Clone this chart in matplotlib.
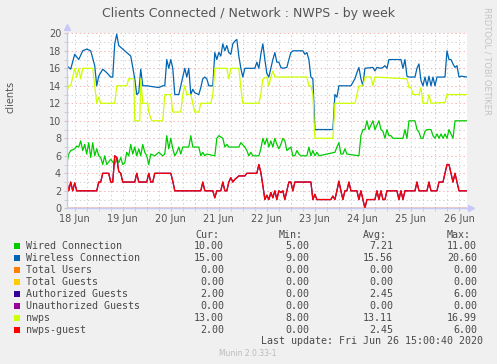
import numpy as np
import matplotlib.pyplot as plt
from matplotlib.patches import Rectangle

plt.rcParams['font.family'] = ['DejaVu Sans']

W, H = 497, 364

# (hours since 18 Jun 00:00, clients)
wired = [(8,5),(9,6.2),(10,6.6),(12,6.8),(13,7.1),(14,7),(15,7.7),(16,6.6),(17,7.3),(18,6.2),(19,7.5),(20,5.8),
         (21,7.5),(22,6),(23,6.8),(24,6),(25,5.8),(26,5),(27,6),(28,5),(30,5.6),(32,5),(33,5.8),(34,5.2),(35,5.8),
         (36,5),(37,5.2),(38,6.4),(39,6),(40,7.3),(41,6.2),(42,7),(43,6),(44,6.8),(45,6),(46,7.3),(47,6.4),(48,6),
         (49,5),(50,6.2),(52,6),(54,6.4),(56,6),(57,6.2),(58,8.3),(59,6.8),(60,8),(61,6.8),(62,6),(63,6.4),(64,7),
         (65,6.2),(66,7),(69,7),(70,8.3),(71,7),(74,7),(75,6),(76,6.4),(77,6),(78,6.2),(82,6),(83,8),(84,8.3),(86,8),
         (87,7),(88,7.3),(89,7),(94,7),(95,7.5),(97,7),(98,6.6),(99,6),(100,6.4),(101,6),(104,6),(105,6.8),(106,8),
         (107,7.3),(108,8),(109,7),(110,7.7),(111,7),(112,8),(113,7.3),(114,6.8),(115,7.3),(116,8),(117,7.7),
         (118,6.6),(119,6.8),(120,7),(121,6),(122,6),(123,6.6),(124,6.2),(125,6),(128,6),(129,7),(130,6),(131,6.6),
         (132,6),(133,6.4),(134,6),(142,6.4),(143,7),(144,7.5),(145,6.2),(146,6.2),(147,6.8),(148,6.2),(154,6),
         (155,8.3),(156,9),(157,9),(158,10),(159,9),(161,10),(162,9),(164,10),(165,9),(166,8.8),(167,8),(168,9),
         (169,8.3),(170,8.3),(171,8),(176,8),(177,9),(178,8),(179,10),(182,10),(183,9),(184,8.7),(185,8),(186,8),
         (187,8.8),(188,9),(190,9),(191,8.3),(192,8),(193,8.5),(194,8),(195,8.5),(196,8),(197,8.5),(198,8),(199,9),
         (201,8),(202,10),(208,10)]

wireless = [(8,16.3),(10,15.9),(12,17.6),(14,17),(16,18),(18,18.2),(20,18),(22,16.3),(23,14),(24,15.1),(26,15.9),
            (28,15.5),(30,15),(31,15),(32,18.8),(33,19.9),(34,18.6),(36,18.2),(38,17.8),(40,17.4),(42,14.8),(43,13),
            (44,13.2),(45,15.9),(46,14),(48,14),(54,13.8),(56,14),(57,14),(58,17),(59,16),(60,17),(61,16),(62,13),
            (64,13),(66,15),(67,16),(68,15),(69,16),(70,13),(71,13.6),(72,13.2),(74,13),(75,13.8),(76,14.8),(77,15),
            (78,14.8),(79,14),(81,14),(82,17.8),(83,17),(84,17.8),(85,17.4),(86,18.8),(87,18),(88,18.6),(89,17.8),
            (90,17.6),(91,18.8),(92,19.1),(93,19.3),(94,17.4),(95,16),(96,15),(97,16),(102,16),(103,16.7),(104,16),
            (105,17.6),(106,18.8),(107,17),(108,15.4),(109,15),(110,16),(111,17),(112,17.8),(113,16.7),(114,16.7),
            (115,16.1),(116,16),(118,16.1),(119,17),(120,17.8),(121,18),(126,18),(127,17.6),(128,17.8),(129,17),
            (130,15),(131,14.8),(132,9),(140,9),(141,9),(142,13),(143,12.7),(144,14),(150,14),(152,14.8),(153,15.5),
            (154,16.1),(155,14.8),(156,14),(157,16),(161,16.1),(162,15.7),(163,16.1),(165,16),(166,16.1),(167,16.3),
            (168,16),(169,17),(175,17),(176,16),(177,17),(178,15.1),(179,15),(182,15),(183,16),(184,16.5),(185,14.6),
            (186,14),(187,15),(188,14),(189,15.1),(190,14),(191,15),(192,14),(193,15),(197,15),(198,18),(199,17),
            (200,17),(201,16.5),(202,16.1),(203,16.3),(204,15),(205,15.1),(208,15)]

nwps = [(8,13.2),(9,14),(10,14),(11,15),(12,16),(13,15),(14,16),(15,14.8),(16,16),(21,16),(22,14),(23,12),
        (24,12.7),(25,12),(32,12),(33,14),(38,14),(39,14.8),(41.5,14.8),(42,10),(44.5,10),(45,14.8),(46,12),
        (48.5,12),(49,11),(50.5,10),(56,10),(57,13),(60,13),(61,11),(65,11),(66,13),(67,14),(68,13),(70,13),
        (71,12),(72,11),(74,11),(75,12),(80,12),(81,13),(82,16),(88,16),(89,14.8),(90,16),(94,16),(95,13.8),
        (96,12),(104,12),(105,13),(106,14.8),(108,15),(109,14),(110,15),(111,15.7),(112,15),(128,15),(129,14),
        (130,14),(131,13),(132,8),(141,8),(142,12),(152,12),(153,13),(154,14),(156,14),(157,15),(160,15),(161,14),
        (162,15),(178,14.8),(179,13.8),(180,13.8),(181,13),(184,13),(185,13.8),(186,12),(188,12),(189,13),
        (190,12),(197,12.1),(198,13),(208,13)]

nwps_guest = [(8,3.1),(9,2),(10,3),(11,2),(12,2.9),(13,2),(23,2),(24,3),(25,3),(26,4),(29,4),(30,3),(31,3),
              (32,6),(33,5.8),(34,4.2),(35,4),(36,3),(42,3),(43,4),(44,3),(48,3),(49,4),(50,3),(51,3),(52,4),
              (60,4),(61,3.1),(62,2),(75,2),(76,3),(77,2),(81,2),(82,1.2),(83,2),(85,2),(86,3),(87,2),(88,2),
              (89,3),(90,3.5),(91,3),(92,3.3),(93,3.5),(94,3.7),(97,3.7),(98,4),(103,4),(104,5),(105,4.1),
              (106,2.6),(107,1),(108,1.5),(109,1),(110,1.8),(111,1.2),(112,2),(113,1),(114,2),(115,1.8),(116,2),
              (117,1),(118,2),(119,3),(120,3),(121,2),(122,3),(130,3),(131,1),(132,1.6),(133,1),(140,1),(141,1.4),
              (142,1),(143,2),(144,3.1),(145,2),(146,1),(147,2),(148,2),(149,3),(150,2),(153,2),(154,1),(155,2),
              (156,1),(157,0),(158,1),(162,1),(163,2),(164,1),(165,2),(166,1),(167,1),(168,2),(173,2),(174,1),
              (175,2),(176,1),(177,2),(182,2),(183,3),(184,2),(188,2),(189,3),(190,2),(193,2),(194,3),(196,3),
              (197,4),(198,5),(199,5),(200,4),(201,3),(202,4),(203,3),(204,2),(208,2)]

authorized_guests = nwps_guest
zero_series = [(8,0),(208,0)]

names = ["Wired Connection", "Wireless Connection", "Total Users", "Total Guests",
         "Authorized Guests", "Unauthorized Guests", "nwps", "nwps-guest"]
colors = ["#00cc00", "#0066b3", "#ff8000", "#ffcc00", "#330099", "#990099", "#ccff00", "#ff0000"]
data = [wired, wireless, zero_series, zero_series, authorized_guests, zero_series, nwps, nwps_guest]
cur = [10.00, 15.00, 0.00, 0.00, 2.00, 0.00, 13.00, 2.00]
mins = [5.00, 9.00, 0.00, 0.00, 0.00, 0.00, 8.00, 0.00]
avgs = [7.21, 15.56, 0.00, 0.00, 2.45, 0.00, 13.11, 2.45]
maxs = [11.00, 20.60, 0.00, 0.00, 6.00, 0.00, 16.99, 6.00]
day_labels = ["18 Jun", "19 Jun", "20 Jun", "21 Jun", "22 Jun", "23 Jun", "24 Jun", "25 Jun", "26 Jun"]


def fx(x):
    return x / W


def fy(y):
    return 1 - y / H


fig = plt.figure(figsize=(W / 100, H / 100), dpi=100, facecolor="#f0f0f0")
ax = fig.add_axes([fx(66.7), fy(208.3), 400.3 / W, 175 / H])
ax.set_facecolor("white")
ax.set_xlim(8, 208)
ax.set_ylim(0, 20)

# grid: dotted, red every day / 2 clients, grey otherwise
for h in range(12, 208, 6):
    c = "#f4b0b0" if h % 24 == 0 else "#d0d0d0"
    ax.axvline(h, color=c, lw=0.7, dashes=(1.4, 2.8), zorder=0)
for v in range(1, 21):
    c = "#f4b0b0" if v % 2 == 0 else "#d0d0d0"
    ax.axhline(v, color=c, lw=0.7, dashes=(1.4, 2.8), zorder=0)

for d, c in zip(data, colors):
    arr = np.array(d, dtype=float)
    ax.plot(arr[:, 0], arr[:, 1], color=c, lw=0.9)

ax.set_xticks(np.arange(12, 208, 24))
ax.set_xticklabels(day_labels)
ax.set_xticks(np.arange(12, 208, 6), minor=True)
ax.set_yticks(np.arange(0, 21, 2))
ax.set_yticks(np.arange(0, 21, 1), minor=True)
ax.tick_params(which="both", length=2, color="#c8c8c8", labelsize=7, labelcolor="#555555", pad=2)

for s in ["top", "right"]:
    ax.spines[s].set_visible(False)
for s in ["left", "bottom"]:
    ax.spines[s].set_color("#c8c8f8")
    ax.spines[s].set_linewidth(1.0)
ax.plot([0], [1.035], marker="^", color="#c8c8f8", ms=4, transform=ax.transAxes, clip_on=False)
ax.plot([1.01], [0], marker=">", color="#c8c8f8", ms=4, transform=ax.transAxes, clip_on=False)

fig.text(fx(248), fy(13), "Clients Connected / Network : NWPS - by week", ha="center", va="center",
         fontsize=9, color="#555555")
fig.text(fx(10), fy(97), "clients", rotation=90, ha="center", va="center", fontsize=7, color="#555555")
fig.text(fx(487), fy(7), "RRDTOOL / TOBI OETIKER", rotation=270, ha="center", va="top",
         fontsize=6, color="#c4c4c4")

# legend table
mono = dict(family="DejaVu Sans Mono", fontsize=7.2, color="#4a4a4a", va="center")
for x, head in zip([195, 279, 363, 447], ["Cur:", "Min:", "Avg:", "Max:"]):
    fig.text(fx(x), fy(234.7), head, ha="left", **mono)
for i, name in enumerate(names):
    y = 245.7 + 12 * i
    fig.add_artist(Rectangle((fx(14), fy(y + 3)), 6 / W, 6 / H, transform=fig.transFigure,
                             facecolor=colors[i], edgecolor="none"))
    fig.text(fx(26), fy(y), name, ha="left", **mono)
    for x, vals in zip([224, 309, 393, 477], [cur, mins, avgs, maxs]):
        fig.text(fx(x), fy(y), "%.2f" % vals[i], ha="right", **mono)
fig.text(fx(483), fy(341), "Last update: Fri Jun 26 15:00:40 2020", ha="right", **mono)
fig.text(fx(248), fy(353), "Munin 2.0.33-1", ha="center", va="center", fontsize=5.5, color="#bbbbbb")

fig.savefig("out.png", dpi=100, facecolor=fig.get_facecolor())
